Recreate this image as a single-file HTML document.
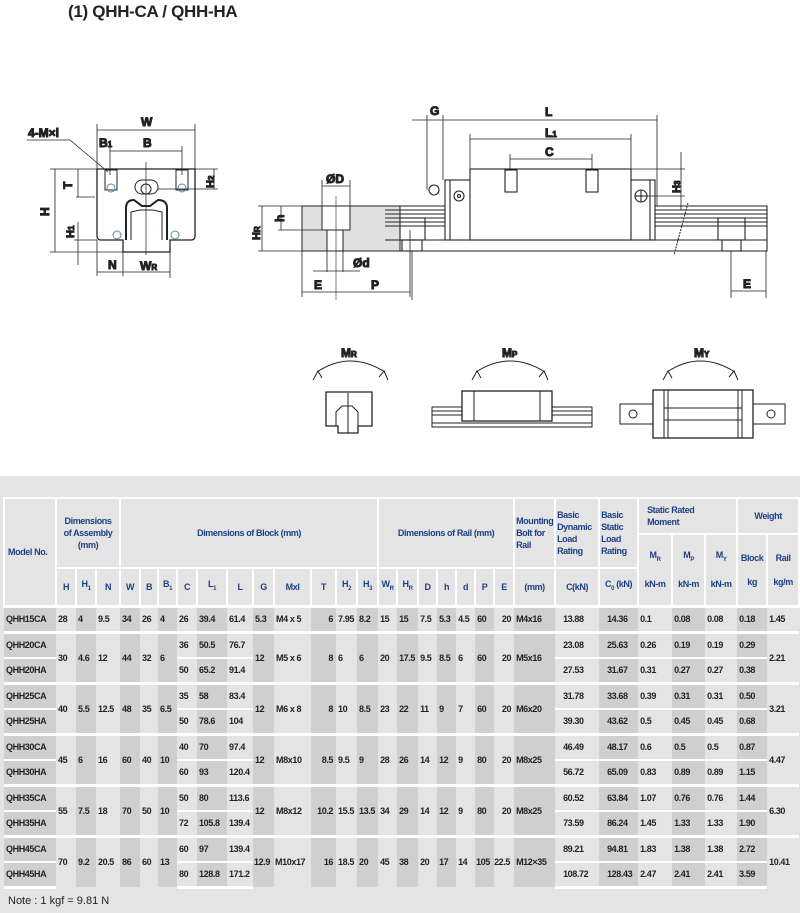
<!DOCTYPE html>
<html><head><meta charset="utf-8">
<style>
body{margin:0;width:800px;height:913px;background:#fff;position:relative;overflow:hidden;font-family:"Liberation Sans",sans-serif}
.title{position:absolute;left:68px;top:2px;font-size:17px;font-weight:bold;color:#222;letter-spacing:-0.3px}
.gray{position:absolute;left:0;top:476px;width:800px;height:437px;background:#e4e4e4}
table{position:absolute;left:3px;top:497px;border-collapse:collapse;table-layout:fixed;width:795px;font-family:"Liberation Sans Narrow","Liberation Sans",sans-serif;font-weight:bold;font-size:9px;letter-spacing:-0.4px;color:#222}
td{padding:0 0 0 2px;white-space:nowrap;overflow:hidden;text-align:left}
.h td{border:2px solid #fff;color:#1d3f85;background:#e4e4e4;text-align:center;padding:0;line-height:12px}
.h td.l{text-align:left;padding-left:3px}
tr.g td{border-top:3px solid #fff}
tr.s td.sp{border-top:2px solid #fff}
tr.d td{height:23px}
.k{background:#cfcfcf}
.last td{border-bottom:3px solid #fff}
.note{position:absolute;left:8px;top:895px;font-size:11px;color:#222;font-family:"Liberation Sans Narrow","Liberation Sans",sans-serif}
svg text{font-family:"Liberation Sans",sans-serif;font-weight:bold;fill:#222}
</style></head><body>
<div class="title">(1) QHH-CA / QHH-HA</div>
<svg width="800" height="470" style="position:absolute;left:0;top:0" stroke="#222" fill="none" stroke-width="1">
<path d="M97 169 H195 V236 Q195 240 191 240 H170 V252 H123 V240 H101 Q97 240 97 236 Z" stroke-width="1.3"/>
<path d="M126 240 V208 Q126 200 134 200 L142 206 H150 L158 200 Q167 200 167 208 V240" stroke-width="2"/>
<path d="M131 240 V212 L140 210 H153 L162 212 V240"/>
<rect x="135" y="180" width="23" height="14" rx="7"/>
<circle cx="146" cy="189" r="5"/>
<rect x="105" y="170" width="12" height="20"/><rect x="176" y="170" width="12" height="20"/>
<circle cx="111" cy="188" r="4" stroke="#58a"/><circle cx="182" cy="188" r="4" stroke="#58a"/>
<circle cx="117" cy="235" r="4" stroke="#58a"/><circle cx="175" cy="235" r="4" stroke="#58a"/>
<line x1="146" y1="162" x2="146" y2="255" stroke-width="0.7"/>
<g stroke-width="0.8">
<line x1="97" y1="124" x2="97" y2="169"/><line x1="195" y1="124" x2="195" y2="169"/><line x1="97" y1="130" x2="195" y2="130"/>
<line x1="110" y1="146" x2="110" y2="175"/><line x1="182" y1="146" x2="182" y2="175"/><line x1="110" y1="151" x2="182" y2="151"/>
<line x1="27" y1="140" x2="70" y2="140"/><line x1="70" y1="140" x2="108" y2="172"/>
<line x1="50" y1="169" x2="97" y2="169"/><line x1="50" y1="252" x2="123" y2="252"/><line x1="55" y1="169" x2="55" y2="252"/>
<line x1="78" y1="169" x2="78" y2="197"/><line x1="76" y1="197" x2="95" y2="197"/>
<line x1="78" y1="222" x2="78" y2="265"/><line x1="74" y1="240" x2="97" y2="240"/>
<line x1="195" y1="169" x2="218" y2="169"/><line x1="158" y1="189" x2="218" y2="189"/><line x1="214" y1="169" x2="214" y2="189"/>
<line x1="97" y1="240" x2="97" y2="276"/><line x1="123" y1="252" x2="123" y2="276"/><line x1="170" y1="252" x2="170" y2="278"/><line x1="97" y1="272" x2="170" y2="272"/>
</g>
<text x="28" y="137" font-size="12">4-M×l</text>
<text x="141" y="126" font-size="12">W</text>
<text x="99" y="147" font-size="12">B<tspan font-size="8">1</tspan></text>
<text x="143" y="147" font-size="12">B</text>
<text x="108" y="269" font-size="12">N</text>
<text x="140" y="270" font-size="12">W<tspan font-size="8">R</tspan></text>
<text transform="translate(49,216) rotate(-90)" font-size="12">H</text>
<text transform="translate(72,189) rotate(-90)" font-size="12">T</text>
<text transform="translate(74,238) rotate(-90)" font-size="11">H<tspan font-size="8">1</tspan></text>
<text transform="translate(214,188) rotate(-90)" font-size="11">H<tspan font-size="8">2</tspan></text>
<rect x="302" y="206" width="98" height="45" fill="#e0e0e0"/>
<rect x="322" y="206" width="28" height="24" fill="#fff"/>
<rect x="327" y="230" width="16" height="21" fill="#fff"/>
<line x1="336" y1="196" x2="336" y2="300" stroke-width="0.6"/>
<g stroke-width="0.8">
<line x1="322" y1="180" x2="322" y2="206"/><line x1="350" y1="180" x2="350" y2="206"/><line x1="322" y1="186" x2="350" y2="186"/>
<line x1="258" y1="206" x2="302" y2="206"/><line x1="258" y1="251" x2="302" y2="251"/><line x1="262" y1="206" x2="262" y2="251"/>
<line x1="278" y1="230" x2="322" y2="230"/><line x1="281" y1="206" x2="281" y2="230"/>
<line x1="327" y1="251" x2="327" y2="272"/><line x1="343" y1="251" x2="343" y2="272"/><line x1="313" y1="271" x2="360" y2="271"/>
<line x1="302" y1="251" x2="302" y2="297"/><line x1="410" y1="230" x2="410" y2="297"/><line x1="302" y1="292" x2="410" y2="292"/>
</g>
<text x="326" y="183" font-size="12">ØD</text>
<text x="353" y="267" font-size="12">Ød</text>
<text x="314" y="289" font-size="12">E</text>
<text x="371" y="289" font-size="12">P</text>
<text transform="translate(260,240) rotate(-90)" font-size="11">H<tspan font-size="8">R</tspan></text>
<text transform="translate(284,222) rotate(-90)" font-size="12">h</text>
<g stroke-width="1.1">
<path d="M385 206 H767 V251 H385"/>
<line x1="385" y1="210" x2="445" y2="210"/><line x1="385" y1="214" x2="445" y2="214"/><line x1="385" y1="218" x2="445" y2="218"/><line x1="385" y1="222" x2="445" y2="222"/><line x1="385" y1="226" x2="445" y2="226"/>
<line x1="655" y1="210" x2="767" y2="210"/><line x1="655" y1="214" x2="767" y2="214"/><line x1="655" y1="218" x2="767" y2="218"/><line x1="655" y1="222" x2="767" y2="222"/><line x1="655" y1="226" x2="767" y2="226"/>
<line x1="385" y1="240" x2="767" y2="240"/>
<rect x="445" y="180" width="210" height="60" fill="#fff"/>
<rect x="470" y="169" width="161" height="71" fill="#fff"/>
<line x1="450" y1="180" x2="450" y2="240"/><line x1="650" y1="180" x2="650" y2="240"/>
<rect x="505" y="170" width="12" height="22"/><rect x="586" y="170" width="12" height="22"/>
<circle cx="459" cy="196" r="5"/><circle cx="459" cy="196" r="1.5"/>
<circle cx="641" cy="196" r="6"/><line x1="635" y1="196" x2="647" y2="196"/><line x1="641" y1="190" x2="641" y2="202"/>
<circle cx="434" cy="190" r="5"/>
<rect x="400" y="218" width="25" height="22"/><rect x="402" y="240" width="20" height="11"/>
<rect x="718" y="218" width="27" height="22"/><rect x="722" y="240" width="19" height="11"/>
</g>
<line x1="688" y1="203" x2="674" y2="255" stroke-dasharray="2 1"/>
<g stroke-width="0.8">
<line x1="427" y1="115" x2="427" y2="190"/><line x1="443" y1="115" x2="443" y2="180"/><line x1="412" y1="120" x2="657" y2="120"/><line x1="657" y1="115" x2="657" y2="206"/>
<line x1="470" y1="134" x2="470" y2="169"/><line x1="631" y1="134" x2="631" y2="169"/><line x1="470" y1="139" x2="631" y2="139"/>
<line x1="510" y1="154" x2="510" y2="170"/><line x1="592" y1="154" x2="592" y2="170"/><line x1="510" y1="159" x2="592" y2="159"/>
<line x1="631" y1="169" x2="685" y2="169"/><line x1="647" y1="196" x2="685" y2="196"/><line x1="681" y1="152" x2="681" y2="210"/>
<line x1="731" y1="251" x2="731" y2="298"/><line x1="766" y1="251" x2="766" y2="298"/><line x1="731" y1="291" x2="766" y2="291"/>
<line x1="412" y1="251" x2="412" y2="300"/>
</g>
<text x="430" y="115" font-size="12">G</text>
<text x="545" y="116" font-size="12">L</text>
<text x="545" y="137" font-size="12">L<tspan font-size="8">1</tspan></text>
<text x="545" y="156" font-size="12">C</text>
<text transform="translate(680,193) rotate(-90)" font-size="11">H<tspan font-size="8">3</tspan></text>
<text x="743" y="288" font-size="12">E</text>
<g stroke-width="1">
<path d="M317 372 Q350 350 385 372"/><path d="M313 380 l5 -9 l4 7"/><path d="M388 380 l-4 -9 l-5 6"/>
<path d="M476 372 Q510 350 545 372"/><path d="M472 380 l5 -9 l4 7"/><path d="M548 380 l-4 -9 l-5 6"/>
<path d="M667 372 Q700 350 735 372"/><path d="M663 380 l5 -9 l4 7"/><path d="M738 380 l-4 -9 l-5 6"/>
<path d="M326 392 H372 V426 H358 V433 H338 V426 H326 Z" stroke-width="1.3"/>
<path d="M336 426 V412 L342 406 H352 L358 412 V426"/>
<line x1="348" y1="393" x2="348" y2="433"/>
<rect x="432" y="407" width="160" height="20"/><line x1="432" y1="423" x2="592" y2="423"/>
<line x1="432" y1="411" x2="462" y2="411"/><line x1="432" y1="415" x2="462" y2="415"/><line x1="552" y1="411" x2="592" y2="411"/><line x1="552" y1="415" x2="592" y2="415"/>
<rect x="462" y="391" width="90" height="30" fill="#fff" stroke-width="1.3"/><line x1="474" y1="391" x2="474" y2="421"/><line x1="540" y1="391" x2="540" y2="421"/>
<rect x="620" y="404" width="165" height="20"/>
<circle cx="633" cy="414" r="4"/><circle cx="771" cy="414" r="4"/>
<rect x="653" y="390" width="100" height="48" fill="#fff" stroke-width="1.3"/>
<line x1="664" y1="390" x2="664" y2="438"/><line x1="742" y1="390" x2="742" y2="438"/><line x1="668" y1="390" x2="668" y2="438"/><line x1="738" y1="390" x2="738" y2="438"/>
<line x1="664" y1="408" x2="742" y2="408"/><line x1="664" y1="420" x2="742" y2="420"/>
</g>
<text x="341" y="357" font-size="12">M<tspan font-size="8">R</tspan></text>
<text x="502" y="357" font-size="12">M<tspan font-size="8">P</tspan></text>
<text x="694" y="357" font-size="12">M<tspan font-size="8">Y</tspan></text>
</svg>
<div class="gray"></div>
<table>
<colgroup><col style="width:52px"><col style="width:20px"><col style="width:20px"><col style="width:24px"><col style="width:20px"><col style="width:18px"><col style="width:19px"><col style="width:20px"><col style="width:30px"><col style="width:26px"><col style="width:21px"><col style="width:37px"><col style="width:25px"><col style="width:21px"><col style="width:21px"><col style="width:19px"><col style="width:21px"><col style="width:19px"><col style="width:19px"><col style="width:19px"><col style="width:19px"><col style="width:20px"><col style="width:41px"><col style="width:44px"><col style="width:39px"><col style="width:34px"><col style="width:33px"><col style="width:32px"><col style="width:30px"><col style="width:32px"></colgroup>
<tr class="h" style="height:36px"><td rowspan="3" class="l">Model No.</td><td colspan="3" rowspan="2">Dimensions<br>of Assembly<br>(mm)</td><td colspan="11" rowspan="2">Dimensions of Block (mm)</td><td colspan="7" rowspan="2">Dimensions of Rail (mm)</td><td rowspan="2" class="l" style="padding-left:1px">Mounting<br>Bolt for<br>Rail</td><td rowspan="2" class="l" style="padding-left:1px">Basic<br>Dynamic<br>Load<br>Rating</td><td rowspan="2" class="l" style="padding-left:1px">Basic<br>Static<br>Load<br>Rating</td><td colspan="3" class="l" style="padding-left:8px">Static Rated<br>Moment</td><td colspan="2">Weight</td></tr>
<tr class="h" style="height:34px"><td rowspan="2">M<sub style="font-size:6px">R</sub><br><br>kN-m</td><td rowspan="2">M<sub style="font-size:6px">P</sub><br><br>kN-m</td><td rowspan="2">M<sub style="font-size:6px">Y</sub><br><br>kN-m</td><td rowspan="2">Block<br><br>kg</td><td rowspan="2">Rail<br><br>kg/m</td></tr>
<tr class="h" style="height:38px"><td>H</td><td>H<sub style="font-size:6px">1</sub></td><td>N</td><td>W</td><td>B</td><td>B<sub style="font-size:6px">1</sub></td><td>C</td><td>L<sub style="font-size:6px">1</sub></td><td>L</td><td>G</td><td>Mxl</td><td>T</td><td>H<sub style="font-size:6px">2</sub></td><td>H<sub style="font-size:6px">3</sub></td><td>W<sub style="font-size:6px">R</sub></td><td>H<sub style="font-size:6px">R</sub></td><td>D</td><td>h</td><td>d</td><td>P</td><td>E</td><td>(mm)</td><td>C(kN)</td><td>C<sub style="font-size:6px">0</sub> (kN)</td></tr>

<tr class="d g"><td class="k">QHH15CA</td><td>28</td><td class="k">4</td><td>9.5</td><td class="k">34</td><td>26</td><td class="k">4</td><td>26</td><td class="k">39.4</td><td>61.4</td><td class="k">5.3</td><td>M4 x 5</td><td class="k" style="text-align:right;padding-right:3px">6</td><td>7.95</td><td class="k">8.2</td><td>15</td><td class="k">15</td><td>7.5</td><td class="k">5.3</td><td>4.5</td><td class="k">60</td><td style="text-align:right;padding-right:3px">20</td><td class="k">M4x16</td><td style="padding-left:8px">13.88</td><td class="k" style="padding-left:8px">14.36</td><td>0.1</td><td class="k">0.08</td><td>0.08</td><td class="k">0.18</td><td>1.45</td></tr>

<tr class="d g"><td class="k">QHH20CA</td><td rowspan="2">30</td><td rowspan="2" class="k">4.6</td><td rowspan="2">12</td><td rowspan="2" class="k">44</td><td rowspan="2">32</td><td rowspan="2" class="k">6</td><td>36</td><td class="k">50.5</td><td>76.7</td><td rowspan="2" class="k">12</td><td rowspan="2">M5 x 6</td><td rowspan="2" class="k" style="text-align:right;padding-right:3px">8</td><td rowspan="2">6</td><td rowspan="2" class="k">6</td><td rowspan="2">20</td><td rowspan="2" class="k">17.5</td><td rowspan="2">9.5</td><td rowspan="2" class="k">8.5</td><td rowspan="2">6</td><td rowspan="2" class="k">60</td><td rowspan="2" style="text-align:right;padding-right:3px">20</td><td rowspan="2" class="k">M5x16</td><td style="padding-left:8px">23.08</td><td class="k" style="padding-left:8px">25.63</td><td>0.26</td><td class="k">0.19</td><td>0.19</td><td class="k">0.29</td><td rowspan="2">2.21</td></tr>
<tr class="d s"><td class="k sp">QHH20HA</td><td class="sp">50</td><td class="k sp">65.2</td><td class="sp">91.4</td><td class="sp" style="padding-left:8px">27.53</td><td class="k sp" style="padding-left:8px">31.67</td><td class="sp">0.31</td><td class="k sp">0.27</td><td class="sp">0.27</td><td class="k sp">0.38</td></tr>

<tr class="d g"><td class="k">QHH25CA</td><td rowspan="2">40</td><td rowspan="2" class="k">5.5</td><td rowspan="2">12.5</td><td rowspan="2" class="k">48</td><td rowspan="2">35</td><td rowspan="2" class="k">6.5</td><td>35</td><td class="k">58</td><td>83.4</td><td rowspan="2" class="k">12</td><td rowspan="2">M6 x 8</td><td rowspan="2" class="k" style="text-align:right;padding-right:3px">8</td><td rowspan="2">10</td><td rowspan="2" class="k">8.5</td><td rowspan="2">23</td><td rowspan="2" class="k">22</td><td rowspan="2">11</td><td rowspan="2" class="k">9</td><td rowspan="2">7</td><td rowspan="2" class="k">60</td><td rowspan="2" style="text-align:right;padding-right:3px">20</td><td rowspan="2" class="k">M6x20</td><td style="padding-left:8px">31.78</td><td class="k" style="padding-left:8px">33.68</td><td>0.39</td><td class="k">0.31</td><td>0.31</td><td class="k">0.50</td><td rowspan="2">3.21</td></tr>
<tr class="d s"><td class="k sp">QHH25HA</td><td class="sp">50</td><td class="k sp">78.6</td><td class="sp">104</td><td class="sp" style="padding-left:8px">39.30</td><td class="k sp" style="padding-left:8px">43.62</td><td class="sp">0.5</td><td class="k sp">0.45</td><td class="sp">0.45</td><td class="k sp">0.68</td></tr>

<tr class="d g"><td class="k">QHH30CA</td><td rowspan="2">45</td><td rowspan="2" class="k">6</td><td rowspan="2">16</td><td rowspan="2" class="k">60</td><td rowspan="2">40</td><td rowspan="2" class="k">10</td><td>40</td><td class="k">70</td><td>97.4</td><td rowspan="2" class="k">12</td><td rowspan="2">M8x10</td><td rowspan="2" class="k" style="text-align:right;padding-right:3px">8.5</td><td rowspan="2">9.5</td><td rowspan="2" class="k">9</td><td rowspan="2">28</td><td rowspan="2" class="k">26</td><td rowspan="2">14</td><td rowspan="2" class="k">12</td><td rowspan="2">9</td><td rowspan="2" class="k">80</td><td rowspan="2" style="text-align:right;padding-right:3px">20</td><td rowspan="2" class="k">M8x25</td><td style="padding-left:8px">46.49</td><td class="k" style="padding-left:8px">48.17</td><td>0.6</td><td class="k">0.5</td><td>0.5</td><td class="k">0.87</td><td rowspan="2">4.47</td></tr>
<tr class="d s"><td class="k sp">QHH30HA</td><td class="sp">60</td><td class="k sp">93</td><td class="sp">120.4</td><td class="sp" style="padding-left:8px">56.72</td><td class="k sp" style="padding-left:8px">65.09</td><td class="sp">0.83</td><td class="k sp">0.89</td><td class="sp">0.89</td><td class="k sp">1.15</td></tr>

<tr class="d g"><td class="k">QHH35CA</td><td rowspan="2">55</td><td rowspan="2" class="k">7.5</td><td rowspan="2">18</td><td rowspan="2" class="k">70</td><td rowspan="2">50</td><td rowspan="2" class="k">10</td><td>50</td><td class="k">80</td><td>113.6</td><td rowspan="2" class="k">12</td><td rowspan="2">M8x12</td><td rowspan="2" class="k" style="text-align:right;padding-right:3px">10.2</td><td rowspan="2">15.5</td><td rowspan="2" class="k">13.5</td><td rowspan="2">34</td><td rowspan="2" class="k">29</td><td rowspan="2">14</td><td rowspan="2" class="k">12</td><td rowspan="2">9</td><td rowspan="2" class="k">80</td><td rowspan="2" style="text-align:right;padding-right:3px">20</td><td rowspan="2" class="k">M8x25</td><td style="padding-left:8px">60.52</td><td class="k" style="padding-left:8px">63.84</td><td>1.07</td><td class="k">0.76</td><td>0.76</td><td class="k">1.44</td><td rowspan="2">6.30</td></tr>
<tr class="d s"><td class="k sp">QHH35HA</td><td class="sp">72</td><td class="k sp">105.8</td><td class="sp">139.4</td><td class="sp" style="padding-left:8px">73.59</td><td class="k sp" style="padding-left:8px">86.24</td><td class="sp">1.45</td><td class="k sp">1.33</td><td class="sp">1.33</td><td class="k sp">1.90</td></tr>

<tr class="d g"><td class="k">QHH45CA</td><td rowspan="2">70</td><td rowspan="2" class="k">9.2</td><td rowspan="2">20.5</td><td rowspan="2" class="k">86</td><td rowspan="2">60</td><td rowspan="2" class="k">13</td><td>60</td><td class="k">97</td><td>139.4</td><td rowspan="2" class="k" style="padding-left:1px">12.9</td><td rowspan="2" style="padding-left:1px">M10x17</td><td rowspan="2" class="k" style="text-align:right;padding-right:3px">16</td><td rowspan="2">18.5</td><td rowspan="2" class="k">20</td><td rowspan="2">45</td><td rowspan="2" class="k">38</td><td rowspan="2">20</td><td rowspan="2" class="k">17</td><td rowspan="2">14</td><td rowspan="2" class="k" style="padding-left:1px">105</td><td rowspan="2" style="padding-left:0">22.5</td><td rowspan="2" class="k">M12×35</td><td style="padding-left:8px">89.21</td><td class="k" style="padding-left:8px">94.81</td><td>1.83</td><td class="k">1.38</td><td>1.38</td><td class="k">2.72</td><td rowspan="2">10.41</td></tr>
<tr class="d s last"><td class="k sp">QHH45HA</td><td class="sp">80</td><td class="k sp">128.8</td><td class="sp">171.2</td><td class="sp" style="padding-left:8px">108.72</td><td class="k sp" style="padding-left:8px">128.43</td><td class="sp">2.47</td><td class="k sp">2.41</td><td class="sp">2.41</td><td class="k sp">3.59</td></tr>
</table>
<div class="note">Note : 1 kgf = 9.81 N</div>
</body></html>
